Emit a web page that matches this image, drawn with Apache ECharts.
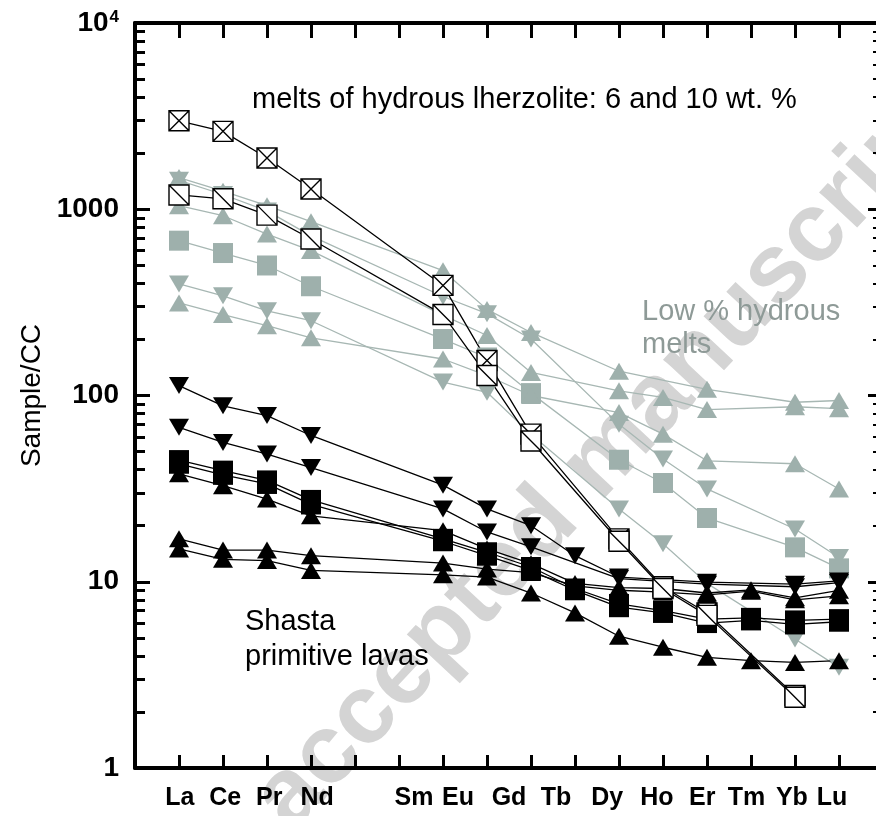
<!DOCTYPE html>
<html><head><meta charset="utf-8">
<script src="https://cdn.jsdelivr.net/npm/echarts@6/dist/echarts.min.js"></script>
<style>html,body{margin:0;padding:0;background:#fff}#c{width:876px;height:816px}</style>
</head><body><div id="c"></div>
<script>
// ---- element slots (x axis), two empty slots between Nd and Sm ----
const elements = ['La','Ce','Pr','Nd','','','Sm','Eu','Gd','Tb','Dy','Ho','Er','Tm','Yb','Lu'];
const yTickLabels = [1, 10, 100, 1000, 10000];

// ---- Low % hydrous melts (grey) ----
const grayUp1   = [1480,1250,1045,857, null,null, 468,290,218,null, 135,null,108,null, 92,94];
const grayDown1 = [1430,1200,980,720,  null,null, 340,275,201,null, 70,45.6,31.5,null, 19.2,13.5];
const grayUp2   = [1045,923,736,600,   null,null, 270,210,133,null, 106,97.7,84,null, 87,85];
const graySq    = [678,582,499,386,    null,null, 201,160,103,null, 45.2,33.9,22,null, 15.3,11.8];
const grayDown2 = [397,343,285,252,    null,null, 118,104,62,null,  24.6,16,9.8,null, 4.93,3.47];
const grayUp3   = [314,272,237,204,    null,null, 157,128,100,null, 81,62,44.6,null, 43,31.5];

// ---- Shasta primitive lavas (black) ----
const blackDown1 = [113,88,78,61,      null,null, 33,24.6,20,13.8, 10.6,null,9.95,null, 9.7,10.1];
const blackDown2 = [67.5,56,48.5,41,   null,null, 24.6,18.5,15.4,null, 10.4,null,9.7,null, 9.4,9.9];
const blackSq1   = [45,39.5,35,27.5,   null,null, 17,14.4,12,9.2, 7.6,7,6.3,6.4, 6.2,6.3];
const blackSq2   = [43,37.5,33.5,26,   null,null, 16.5,13.8,11.5,9.0, 7.3,6.8,6.0,6.2, 5.9,6.1];
const blackUp1   = [38,32.8,27.8,22.6, null,null, 18.8,15,12.5,9.8, 9.3,9.2,8.7,9.05, 8.2,9.0];
const blackUp2   = [17,14.8,14.8,13.8, null,null, 12.6,11.7,11.2,9.5, 9.0,8.8,8.5,8.9, 8.0,8.4];
const blackUp3   = [15,13.2,13,11.5,   null,null, 10.9,10.6,8.7,6.8, 5.1,4.45,3.93,3.77, 3.69,3.77];

// ---- melts of hydrous lherzolite: 6 and 10 wt.% (open squares) ----
const melt6  = [2985,2620,1884,1284, null,null, 390,154,62,null, 17,9.4,6.8,null, 2.45,null];
const melt10 = [1193,1138,930,692,   null,null, 272,128,57,null, 16.5,9.2,6.6,null, 2.4,null];

// ---- styling ----
const FONT = '"Liberation Sans", Arial, Helvetica, sans-serif';
const GRAY = '#9eb0ac';
const GRAY_LINE = '#a7b7b3';
// label placement along the axis (as in the original figure's hand-set labels)
const labelShift = {La:0.02, Ce:1.05, Pr:2.05, Nd:3.14, Sm:-0.66, Eu:-0.66, Gd:-0.5, Tb:-0.43, Dy:-0.27, Ho:-0.14, Er:-0.11, Tm:-0.1, Yb:-0.07, Lu:-0.16};
const labelEntries = [];
elements.forEach((e, i) => {
  if (!e) return;
  const s = labelShift[e];
  const pos = (i <= 3) ? s : i + s;
  labelEntries.push({pos: pos, name: e});
});

const minorVals = [];
[1, 10, 100, 1000].forEach(d => { for (let k = 2; k <= 9; k++) minorVals.push(d * k); });

function pts(vals) {
  const out = [];
  vals.forEach((v, i) => { if (v != null) out.push([i, v]); });
  return out;
}
const OPEN_X = 'path://M0 0H10V10H0Z M0 0L10 10 M10 0L0 10';
const OPEN_D = 'path://M0 0H10V10H0Z M0 0L10 10';

function series(vals, kind, color, lineColor, lw) {
  let symbol = 'triangle', size = [20, 17], rot = 0, item = {color: color};
  if (kind === 'down') { rot = 180; }
  if (kind === 'sq') { symbol = 'rect'; size = 20; }
  if (kind === 'ox') { symbol = OPEN_X; size = 20; item = {color: '#fff', borderColor: '#000', borderWidth: 1.4}; }
  if (kind === 'od') { symbol = OPEN_D; size = 20; item = {color: '#fff', borderColor: '#000', borderWidth: 1.4}; }
  return {
    type: 'line', data: pts(vals), symbol: symbol, symbolSize: size, symbolRotate: rot,
    showAllSymbol: true, itemStyle: item,
    lineStyle: {color: lineColor, width: lw},
    emphasis: {disabled: true}, silent: true, animation: false, z: 3
  };
}

const allSeries = [
  series(grayUp1, 'up', GRAY, GRAY_LINE, 1.3),
  series(grayDown1, 'down', GRAY, GRAY_LINE, 1.3),
  series(grayUp2, 'up', GRAY, GRAY_LINE, 1.3),
  series(graySq, 'sq', GRAY, GRAY_LINE, 1.3),
  series(grayDown2, 'down', GRAY, GRAY_LINE, 1.3),
  series(grayUp3, 'up', GRAY, GRAY_LINE, 1.3),
  series(blackDown1, 'down', '#000', '#000', 1.3),
  series(blackDown2, 'down', '#000', '#000', 1.3),
  series(blackSq1, 'sq', '#000', '#000', 1.3),
  series(blackSq2, 'sq', '#000', '#000', 1.3),
  series(blackUp1, 'up', '#000', '#000', 1.3),
  series(blackUp2, 'up', '#000', '#000', 1.3),
  series(blackUp3, 'up', '#000', '#000', 1.3),
  series(melt6, 'ox', '#fff', '#000', 1.3),
  series(melt10, 'od', '#fff', '#000', 1.3)
];

const tickIdx = elements.map((_, i) => i);
const xBase = {
  type: 'value', min: -1, max: 16, splitLine: {show: false},
  axisLine: {show: true, onZero: false, lineStyle: {color: '#000', width: 4}}
};
const yBase = {
  type: 'log', logBase: 10, min: 1, max: 10000, splitLine: {show: false}, minorSplitLine: {show: false}
};

const chart = echarts.init(document.getElementById('c'), null, {renderer: 'canvas'});
chart.setOption({
  animation: false,
  backgroundColor: '#fff',
  grid: {left: 135, top: 23, width: 748, height: 745, outerBoundsMode: 'none', containLabel: false},
  xAxis: [
    Object.assign({}, xBase, {
      position: 'bottom',
      axisTick: {show: true, inside: true, length: 13, lineStyle: {color: '#000', width: 3}, customValues: tickIdx},
      axisLabel: {
        show: true, margin: 18, color: '#000', fontSize: 25, fontWeight: 'bold', fontFamily: FONT,
        customValues: labelEntries.map(e => e.pos),
        formatter: function (v) {
          for (const e of labelEntries) if (Math.abs(e.pos - v) < 1e-6) return e.name;
          return '';
        }
      }
    }),
    Object.assign({}, xBase, {
      position: 'top',
      axisTick: {show: true, inside: true, length: 15, lineStyle: {color: '#000', width: 3}, customValues: tickIdx},
      axisLabel: {show: false}
    })
  ],
  yAxis: [
    Object.assign({}, yBase, {
      position: 'left',
      axisLine: {show: true, onZero: false, lineStyle: {color: '#000', width: 4}},
      axisTick: {show: true, inside: true, length: 15, lineStyle: {color: '#000', width: 3}, customValues: yTickLabels},
      axisLabel: {
        show: true, margin: 16, customValues: yTickLabels,
        formatter: function (v) { return v >= 9999 ? '{b|10}{s|4}' : '{b|' + v + '}'; },
        rich: {
          b: {fontSize: 28, fontWeight: 'bold', fontFamily: FONT, color: '#000'},
          s: {fontSize: 17, fontWeight: 'bold', fontFamily: FONT, color: '#000', verticalAlign: 'top', padding: [0, 0, 12, 1]}
        }
      },
      name: 'Sample/CC', nameLocation: 'middle', nameGap: 72,
      nameTextStyle: {fontSize: 28, fontFamily: '"Liberation Sans Narrow", "Liberation Sans", Arial, sans-serif', color: '#000'}
    }),
    Object.assign({}, yBase, {
      position: 'left', axisLine: {show: false, onZero: false}, axisLabel: {show: false},
      axisTick: {show: true, inside: true, length: 10, lineStyle: {color: '#000', width: 3}, customValues: minorVals}
    }),
    Object.assign({}, yBase, {
      position: 'right', axisLine: {show: true, onZero: false, lineStyle: {color: '#000', width: 4}}, axisLabel: {show: false},
      axisTick: {show: true, inside: true, length: 15, lineStyle: {color: '#000', width: 3}, customValues: yTickLabels}
    }),
    Object.assign({}, yBase, {
      position: 'right', axisLine: {show: false, onZero: false}, axisLabel: {show: false},
      axisTick: {show: true, inside: true, length: 10, lineStyle: {color: '#000', width: 2}, customValues: minorVals}
    })
  ],
  graphic: [
    {type: 'text', x: 606, y: 457, rotation: 47 * Math.PI / 180, z: -10, silent: true,
     style: {text: 'accepted manuscript', font: 'bold 98px ' + FONT, fill: '#d4d4d4', align: 'center', verticalAlign: 'middle', textAlign: 'center', textVerticalAlign: 'middle'}},
    {type: 'text', x: 252, y: 100, z: 10, silent: true,
     style: {text: 'melts of hydrous lherzolite: 6 and 10 wt. %', font: '29px ' + FONT, fill: '#000', verticalAlign: 'middle', textVerticalAlign: 'middle'}},
    {type: 'text', x: 642, y: 312, z: 10, silent: true,
     style: {text: 'Low % hydrous', font: '29px ' + FONT, fill: '#8e9a97', verticalAlign: 'middle', textVerticalAlign: 'middle'}},
    {type: 'text', x: 642, y: 345, z: 10, silent: true,
     style: {text: 'melts', font: '29px ' + FONT, fill: '#8e9a97', verticalAlign: 'middle', textVerticalAlign: 'middle'}},
    {type: 'text', x: 245, y: 622, z: 10, silent: true,
     style: {text: 'Shasta', font: '29px ' + FONT, fill: '#000', verticalAlign: 'middle', textVerticalAlign: 'middle'}},
    {type: 'text', x: 245, y: 657, z: 10, silent: true,
     style: {text: 'primitive lavas', font: '29px ' + FONT, fill: '#000', verticalAlign: 'middle', textVerticalAlign: 'middle'}}
  ],
  series: allSeries
});
</script>
</body></html>
